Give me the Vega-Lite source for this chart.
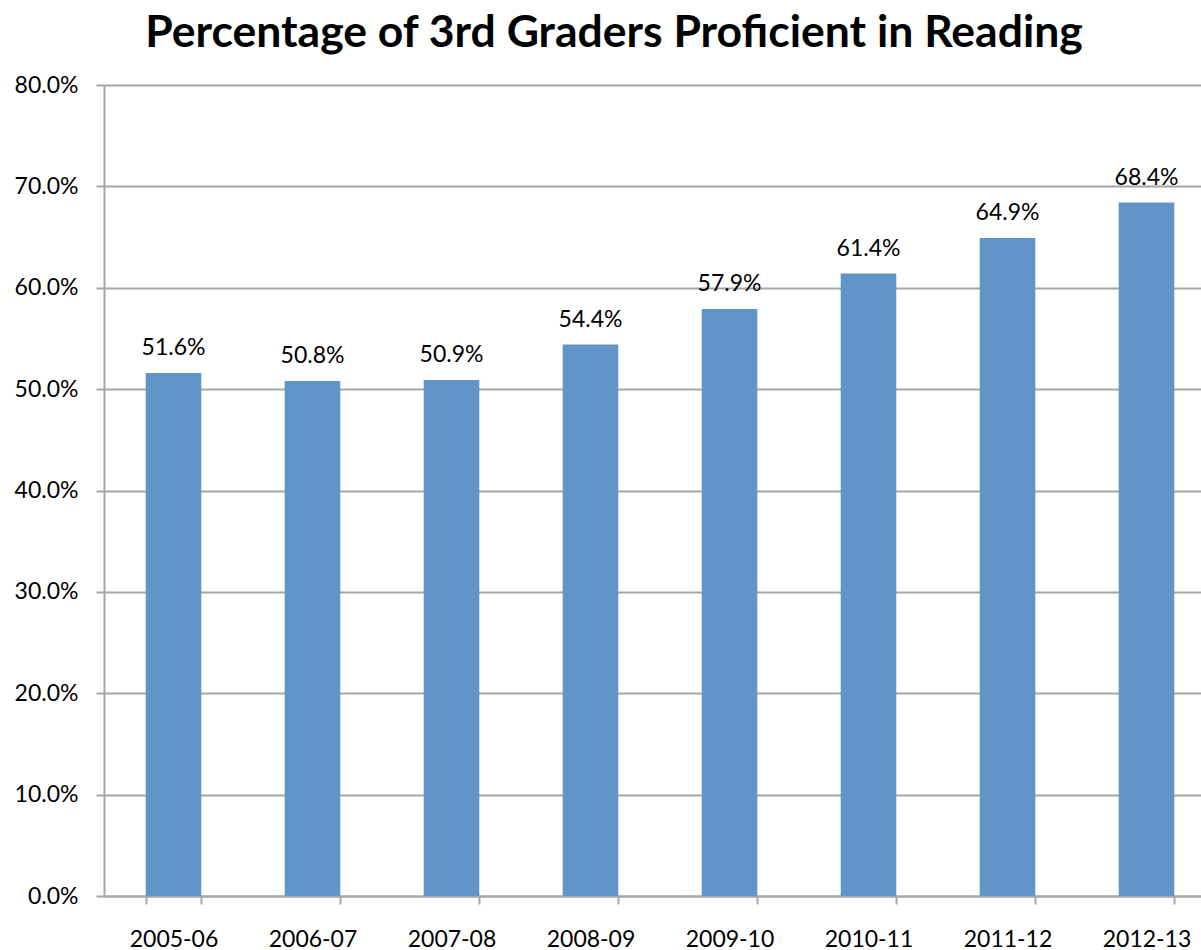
{
  "$schema": "https://vega.github.io/schema/vega-lite/v6.json",
  "autosize": "none",
  "width": 1112,
  "height": 811,
  "padding": {"left": 104, "top": 85, "right": 0, "bottom": 54},
  "background": "white",
  "title": {
    "text": "Percentage of 3rd Graders Proficient in Reading",
    "font": "Lato",
    "fontSize": 44.5,
    "fontWeight": "bold",
    "color": "black",
    "anchor": "middle",
    "offset": 18,
    "dx": -46
  },
  "data": {
    "values": [
      {"year": "2005-06", "pct": 0.516},
      {"year": "2006-07", "pct": 0.508},
      {"year": "2007-08", "pct": 0.509},
      {"year": "2008-09", "pct": 0.544},
      {"year": "2009-10", "pct": 0.579},
      {"year": "2010-11", "pct": 0.614},
      {"year": "2011-12", "pct": 0.649},
      {"year": "2012-13", "pct": 0.684}
    ]
  },
  "config": {
    "view": {"stroke": null},
    "axis": {
      "labelFont": "Lato",
      "labelFontSize": 23,
      "labelColor": "black",
      "domainColor": "#A6A6A6",
      "domainWidth": 2,
      "tickColor": "#A6A6A6",
      "tickWidth": 2,
      "gridColor": "#A6A6A6",
      "gridWidth": 2,
      "title": null
    }
  },
  "encoding": {
    "x": {
      "field": "year",
      "type": "nominal",
      "sort": null,
      "scale": {"paddingInner": 0.6, "paddingOuter": 0.3},
      "axis": {"labelAngle": 0, "tickBand": "extent", "tickSize": 8, "labelPadding": 24, "grid": false}
    },
    "y": {
      "field": "pct",
      "type": "quantitative",
      "scale": {"domain": [0, 0.8], "nice": false},
      "axis": {"values": [0, 0.1, 0.2, 0.3, 0.4, 0.5, 0.6, 0.7, 0.8], "format": ".1%", "tickSize": 8, "labelPadding": 18, "grid": true}
    }
  },
  "layer": [
    {"mark": {"type": "bar", "color": "#6195C8"}},
    {
      "mark": {"type": "text", "font": "Lato", "fontSize": 23, "color": "black", "baseline": "alphabetic", "dy": -18},
      "encoding": {"text": {"field": "pct", "type": "quantitative", "format": ".1%"}}
    }
  ]
}
